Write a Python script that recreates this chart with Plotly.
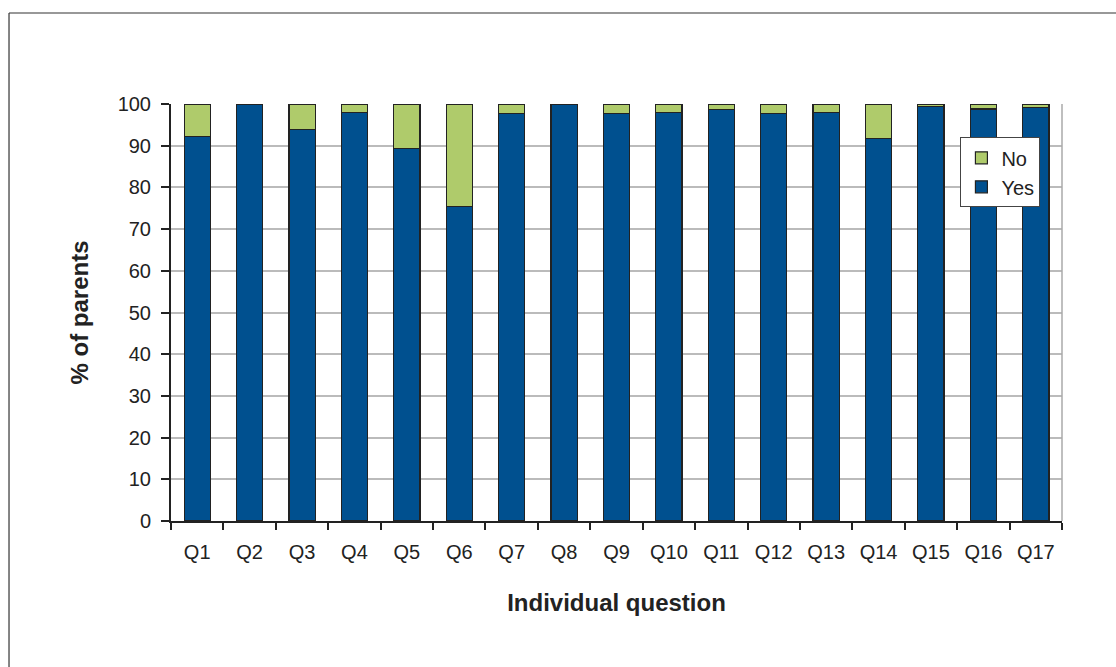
import plotly.graph_objects as go

categories = [f"Q{i}" for i in range(1, 18)]
yes_values = [92.3, 100, 93.8, 98.0, 89.4, 75.4, 97.7, 100, 97.7, 97.9, 98.6, 97.7, 97.9, 91.8, 99.4, 98.8, 99.1]
no_values = [round(100 - v, 1) for v in yes_values]

fig = go.Figure()
fig.add_trace(go.Bar(name="Yes", x=categories, y=yes_values,
                     marker=dict(color="#00508F", line=dict(color="#222222", width=1.2))))
fig.add_trace(go.Bar(name="No", x=categories, y=no_values,
                     marker=dict(color="#AFCB6B", line=dict(color="#222222", width=1.2))))

font_family = "Liberation Sans, Arial, sans-serif"
fig.update_layout(
    barmode="stack",
    bargap=0.5,
    width=1116, height=667,
    margin=dict(l=171, r=54, t=104, b=146),
    paper_bgcolor="white", plot_bgcolor="white",
    font=dict(family=font_family, size=20, color="#222222"),
    showlegend=True,
    legend=dict(x=0.886, y=0.92, xanchor="left", yanchor="top",
                traceorder="reversed", bordercolor="#444444", borderwidth=1,
                bgcolor="white", font=dict(size=20), itemwidth=30,
                tracegroupgap=0),
    xaxis=dict(title=dict(text="<b>Individual question</b>", font=dict(size=24), standoff=32),
               showline=True, linecolor="#222222", linewidth=2,
               ticks="outside", tickson="boundaries", ticklen=7, tickcolor="#222222",
               tickwidth=1.5, ticklabelstandoff=12, mirror=False, showgrid=False),
    yaxis=dict(title=dict(text="<b>% of parents</b>", font=dict(size=24), standoff=22),
               range=[0, 100], tickvals=list(range(0, 101, 10)),
               showline=True, linecolor="#222222", linewidth=2,
               ticks="outside", ticklen=8, tickcolor="#222222", tickwidth=1.5,
               ticklabelstandoff=6,
               showgrid=True, gridcolor="#BBBBBB", gridwidth=1.5, zeroline=False),
    shapes=[
        dict(type="line", xref="paper", yref="paper", x0=1, x1=1, y0=0, y1=1,
             line=dict(color="#AAAAAA", width=1.5)),
        dict(type="line", xref="paper", yref="paper", x0=-0.1818, x1=1.2, y0=1.2182, y1=1.2182,
             line=dict(color="#333333", width=1.2)),
        dict(type="line", xref="paper", yref="paper", x0=-0.1818, x1=-0.1818, y0=-0.4, y1=1.2182,
             line=dict(color="#333333", width=1.2)),
    ],
)

fig.write_html("out.html")
